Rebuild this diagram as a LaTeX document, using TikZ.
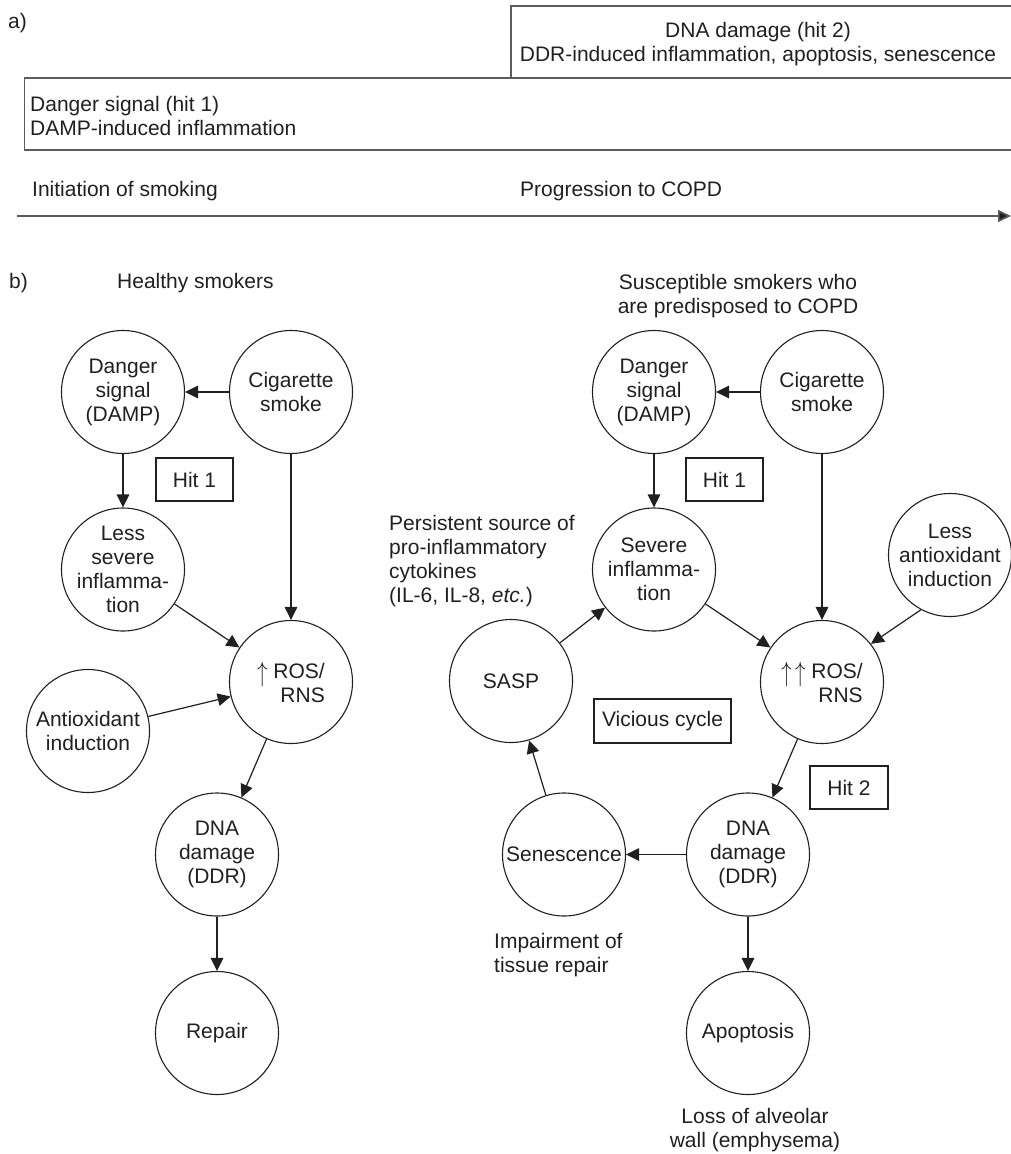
\documentclass[tikz,border=0pt]{standalone}
\usepackage{fontspec}
\setmainfont{Liberation Sans}
\usepackage{xcolor}
\usepackage{amsmath}
\usepackage{tikz}
\usetikzlibrary{arrows.meta}

\definecolor{ink}{HTML}{231F20}
\definecolor{rulegray}{HTML}{5C5C5C}

\newcommand{\rosup}{\raisebox{-3pt}{\scalebox{1}[1.35]{$\uparrow$}}}

\tikzset{
  bubble/.style={circle, draw=ink, line width=1.1pt, minimum size=123pt, inner sep=-20pt, align=center},
  hitbox/.style={draw=ink, line width=1.1pt, minimum height=43pt, inner sep=0pt},
  link/.style={draw=ink, line width=1.2pt, -{Triangle[length=13pt,width=12.5pt]}},
  band/.style={draw=rulegray, line width=1.6pt},
}

\begin{document}
\begin{tikzpicture}[x=1pt, y=-1pt,
    every node/.style={text=ink, inner sep=0pt, font=\fontsize{21}{24}\selectfont}]
        \useasboundingbox (0,0) rectangle (1011,1154);

        % Part a): the two hits along the time axis
        \node[anchor=west] (lbla) at (8,23) {a)};%
        \draw[band] (1011,6) -- (511,6) -- (511,78) -- (1011,78);%
        \node[align=center] (hittwo) at (758,44) {DNA damage (hit 2)\\DDR-induced inflammation, apoptosis, senescence};%
        \draw[band] (1011,78) -- (24.5,78) -- (24.5,150) -- (1011,150);%
        \node[anchor=west, align=left] (hitone) at (30,115.5) {Danger signal (hit 1)\\DAMP-induced inflammation};%

        % Time axis
        \node[anchor=west] (initiation) at (32,191) {Initiation of smoking};%
        \node[anchor=west] (progression) at (520,191) {Progression to COPD};%
        \coordinate (tstart) at (17,216);
        \coordinate (tend) at (1011,216);
        \draw[band, -{Triangle[length=13pt,width=12pt,fill=ink]}] (tstart) -- (tend);%

        % Part b): headings
        \node[anchor=west] (lblb) at (9,283) {b)};%
        \node[anchor=west] (healthy) at (117,283) {Healthy smokers};%
        \node[align=center] (suscept) at (738,296) {Susceptible smokers who\\are predisposed to COPD};%

        % Healthy smokers: circles
        \node[bubble] (dangA) at (123,392) {Danger\\signal\\(DAMP)};%
        \node[bubble] (cigA) at (291,392) {Cigarette\\smoke};%
        \node[bubble] (lessA) at (123,569.5) {Less\\severe\\inflamma-\\tion};%
        \node[bubble, align=right] (rosA) at (291,682) {\rosup\ ROS/\\RNS};%
        \node[bubble] (antiA) at (88,731) {Antioxidant\\induction};%
        \node[bubble] (dnaA) at (217,854.5) {DNA\\damage\\(DDR)};%
        \node[bubble] (repairA) at (217,1033) {Repair};%
        \node[hitbox, minimum width=77pt] (hitA) at (194.5,479.5) {Hit 1};%

        % Healthy smokers: arrows
        \draw[link] (cigA) -- (dangA);%
        \draw[link] (dangA) -- (lessA);%
        \draw[link] (cigA) -- (rosA);%
        \draw[link] (lessA) -- (rosA);%
        \draw[link] (antiA) -- (rosA);%
        \draw[link] (rosA) -- (dnaA);%
        \draw[link] (dnaA) -- (repairA);%

        % Susceptible smokers: circles
        \node[bubble] (dangB) at (654,392) {Danger\\signal\\(DAMP)};%
        \node[bubble] (cigB) at (822,392) {Cigarette\\smoke};%
        \node[bubble] (sevB) at (654,569.5) {Severe\\inflamma-\\tion};%
        \node[bubble] (lantiB) at (950,555) {Less\\antioxidant\\induction};%
        \node[bubble, align=right] (rosB) at (822,682) {\rosup\,\rosup\ ROS/\\RNS};%
        \node[bubble] (saspB) at (511,681) {SASP};%
        \node[bubble] (dnaB) at (748,854.5) {DNA\\damage\\(DDR)};%
        \node[bubble] (senB) at (564,854.5) {Senescence};%
        \node[bubble] (apoB) at (748,1033) {Apoptosis};%
        \node[hitbox, minimum width=77pt] (hitB) at (724.5,479.5) {Hit 1};%
        \node[hitbox, minimum width=137pt, minimum height=44pt] (vicious) at (662.5,721) {Vicious cycle};%
        \node[hitbox, minimum width=78pt] (hitC) at (849,787.5) {Hit 2};%

        % Susceptible smokers: side notes
        \node[anchor=west, align=left] (cytokines) at (389,561.5) {Persistent source of\\pro-inflammatory\\cytokines\\(IL-6, IL-8, \textit{etc.})};%
        \node[anchor=west, align=left] (impair) at (494,955) {Impairment of\\tissue repair};%
        \node[align=center] (loss) at (755,1130) {Loss of alveolar\\wall (emphysema)};%

        % Susceptible smokers: arrows
        \draw[link] (cigB) -- (dangB);%
        \draw[link] (dangB) -- (sevB);%
        \draw[link] (cigB) -- (rosB);%
        \draw[link] (sevB) -- (rosB);%
        \draw[link] (lantiB.242) -- (rosB.38);%
        \draw[link] (rosB) -- (dnaB);%
        \draw[link] (dnaB) -- (senB);%
        \draw[link] (dnaB) -- (apoB);%
        \draw[link] (senB) -- (saspB);%
        \draw[link] (saspB) -- (sevB);%
\end{tikzpicture}
\end{document}
